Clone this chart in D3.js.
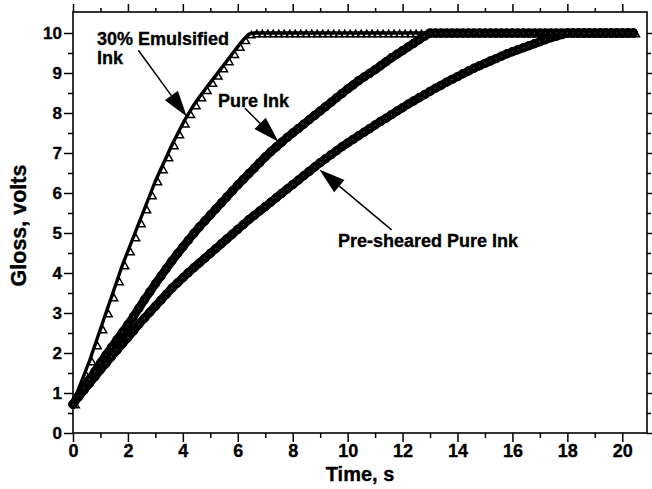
<!DOCTYPE html>
<html>
<head>
<meta charset="utf-8">
<script src="https://cdn.jsdelivr.net/npm/d3@7"></script>
<style>
  html, body { margin: 0; padding: 0; background: #fff; }
  svg { display: block; }
  text { font-family: "Liberation Sans", Arial, sans-serif; font-weight: bold; fill: #000; }
  .heavy { stroke: #000; stroke-width: 0.35; }
</style>
</head>
<body>
<svg id="chart" width="652" height="489"></svg>
<script>
// Sampling times (s)
const time = [0,0.2,0.4,0.6,0.8,1.0,1.2,1.4,1.6,1.8,2.0,2.2,2.4,2.6,2.8,3.0,3.2,3.4,3.6,3.8,
  4.0,4.2,4.4,4.6,4.8,5.0,5.2,5.4,5.6,5.8,6.0,6.2,6.4,6.6,6.8,7.0,7.2,7.4,7.6,7.8,
  8.0,8.2,8.4,8.6,8.8,9.0,9.2,9.4,9.6,9.8,10.0,10.2,10.4,10.6,10.8,11.0,11.2,11.4,11.6,11.8,
  12.0,12.2,12.4,12.6,12.8,13.0,13.2,13.4,13.6,13.8,14.0,14.2,14.4,14.6,14.8,15.0,15.2,15.4,15.6,15.8,
  16.0,16.2,16.4,16.6,16.8,17.0,17.2,17.4,17.6,17.8,18.0,18.2,18.4,18.6,18.8,19.0,19.2,19.4,19.6,19.8,
  20.0,20.2,20.4];

// Gloss (volts) – 30% emulsified ink
const emulsified = [0.72,1.1,1.45,1.8,2.2,2.6,3.0,3.4,3.8,4.2,4.55,4.9,5.25,5.6,5.95,6.3,6.6,6.9,7.2,7.47,
  7.74,7.98,8.2,8.4,8.58,8.76,8.94,9.12,9.3,9.48,9.66,9.83,9.97,10,10,10,10,10,10,10,
  10,10,10,10,10,10,10,10,10,10,10,10,10,10,10,10,10,10,10,10,
  10,10,10,10,10,10,10,10,10,10,10,10,10,10,10,10,10,10,10,10,
  10,10,10,10,10,10,10,10,10,10,10,10,10,10,10,10,10,10,10,10,
  10,10,10];

// Gloss (volts) – pure ink
const pureInk = [0.72,0.93,1.13,1.34,1.54,1.75,1.95,2.14,2.33,2.52,2.71,2.91,3.12,3.33,3.53,3.73,3.92,4.11,4.3,4.48,
  4.65,4.82,4.99,5.15,5.3,5.45,5.6,5.75,5.9,6.05,6.2,6.34,6.48,6.62,6.76,6.9,7.03,7.15,7.27,7.39,
  7.5,7.61,7.72,7.83,7.94,8.05,8.16,8.27,8.38,8.49,8.6,8.7,8.81,8.9,8.99,9.08,9.18,9.28,9.38,9.47,
  9.56,9.65,9.74,9.83,9.92,10,10,10,10,10,10,10,10,10,10,10,10,10,10,10,
  10,10,10,10,10,10,10,10,10,10,10,10,10,10,10,10,10,10,10,10,
  10,10,10];

// Gloss (volts) – pre-sheared pure ink
const preSheared = [0.72,0.9,1.07,1.24,1.41,1.58,1.74,1.91,2.07,2.23,2.39,2.55,2.72,2.87,3.02,3.17,3.32,3.47,3.62,3.75,
  3.88,4.01,4.13,4.25,4.37,4.49,4.61,4.73,4.85,4.97,5.09,5.21,5.33,5.44,5.55,5.66,5.77,5.88,5.99,6.1,
  6.21,6.32,6.43,6.54,6.65,6.76,6.86,6.96,7.06,7.16,7.25,7.34,7.43,7.52,7.61,7.7,7.79,7.87,7.96,8.05,
  8.13,8.22,8.3,8.38,8.46,8.54,8.62,8.69,8.77,8.84,8.91,8.98,9.05,9.12,9.18,9.24,9.3,9.36,9.42,9.48,
  9.53,9.58,9.63,9.68,9.73,9.78,9.83,9.88,9.92,9.96,10,10,10,10,10,10,10,10,10,10,
  10,10,10];

const xTicks = [0,2,4,6,8,10,12,14,16,18,20];
const xMinorTicks = [1,3,5,7,9,11,13,15,17,19];
const yTicks = [0,1,2,3,4,5,6,7,8,9,10];
const yMinorTicks = [0.5,1.5,2.5,3.5,4.5,5.5,6.5,7.5,8.5,9.5];

const xTitle = "Time, s";
const yTitle = "Gloss, volts";

// Callout labels, placed in data units
const labels = [
  { lines: ["30% Emulsified", "Ink"], t: 0.87, v: 9.7 },
  { lines: ["Pure Ink"], t: 5.28, v: 8.15 },
  { lines: ["Pre-sheared Pure Ink"], t: 9.65, v: 4.65 }
];
const arrows = [
  { from: [2.38, 9.57], to: [4.14, 7.91] },
  { from: [6.26, 8.12], to: [7.48, 7.28] },
  { from: [11.6, 5.08], to: [8.97, 6.59] }
];

const svg = d3.select("#chart");
const plotL = 73, plotR = 647, plotT = 12, plotB = 433;

const x = d3.scaleLinear().domain([0, 20.9]).range([plotL, plotR]);
const y = d3.scaleLinear().domain([0, 10.525]).range([plotB, plotT]);

// ---- axes (ticks outward on all four sides) ----
function styleAxis(g) {
  g.select(".domain").remove();
  g.selectAll(".tick line").attr("stroke", "#000").attr("stroke-width", 1.5);
}
svg.append("g").attr("transform", `translate(0,${plotB})`)
  .call(d3.axisBottom(x).tickValues(xTicks).tickSize(9).tickPadding(2).tickFormat(d3.format("d")))
  .call(styleAxis)
  .call(g => g.selectAll("text").attr("font-size", 18).attr("dy", "0.72em").attr("class", "heavy"));
svg.append("g").attr("transform", `translate(0,${plotB})`)
  .call(d3.axisBottom(x).tickValues(xMinorTicks).tickSize(5).tickFormat(""))
  .call(styleAxis);
svg.append("g").attr("transform", `translate(0,${plotT})`)
  .call(d3.axisTop(x).tickValues(xTicks).tickSize(8).tickFormat(""))
  .call(styleAxis);
svg.append("g").attr("transform", `translate(0,${plotT})`)
  .call(d3.axisTop(x).tickValues(xMinorTicks).tickSize(4).tickFormat(""))
  .call(styleAxis);

svg.append("g").attr("transform", `translate(${plotL},0)`)
  .call(d3.axisLeft(y).tickValues(yTicks).tickSize(9).tickPadding(2).tickFormat(d3.format("d")))
  .call(styleAxis)
  .call(g => g.selectAll("text").attr("font-size", 17).attr("class", "heavy"));
svg.append("g").attr("transform", `translate(${plotL},0)`)
  .call(d3.axisLeft(y).tickValues(yMinorTicks).tickSize(5).tickFormat(""))
  .call(styleAxis);
svg.append("g").attr("transform", `translate(${plotR},0)`)
  .call(d3.axisRight(y).tickValues(yTicks).tickSize(8).tickFormat(""))
  .call(styleAxis);
svg.append("g").attr("transform", `translate(${plotR},0)`)
  .call(d3.axisRight(y).tickValues(yMinorTicks).tickSize(4).tickFormat(""))
  .call(styleAxis);

// frame
svg.append("rect")
  .attr("x", plotL).attr("y", plotT)
  .attr("width", plotR - plotL).attr("height", plotB - plotT)
  .attr("fill", "none").attr("stroke", "#000").attr("stroke-width", 1.6);

// axis titles
svg.append("text").attr("class", "heavy")
  .attr("x", (plotL + plotR) / 2).attr("y", 481)
  .attr("text-anchor", "middle").attr("font-size", 20)
  .text(xTitle);
svg.append("text").attr("class", "heavy")
  .attr("transform", `translate(26,${(plotT + plotB) / 2 + 3}) rotate(-90)`)
  .attr("text-anchor", "middle").attr("font-size", 21.5)
  .text(yTitle);

// ---- series ----
const line = d3.line().x((d, i) => x(time[i])).y(d => y(d));

// 30% emulsified: heavy line with open triangles riding on its lower side
svg.append("path").datum(emulsified)
  .attr("d", line).attr("fill", "none")
  .attr("stroke", "#000").attr("stroke-width", 3.4)
  .attr("stroke-linejoin", "round").attr("stroke-linecap", "round");
svg.append("g").selectAll("path").data(emulsified).join("path")
  .attr("d", d3.symbol(d3.symbolTriangle, 24)())
  .attr("transform", (d, i) => `translate(${x(time[i]) + 2.5},${y(d) + 1.5})`)
  .attr("fill", "none").attr("stroke", "#000").attr("stroke-width", 1.5);

// Pure ink and pre-sheared pure ink: densely packed open circles
function circleSeries(values) {
  svg.append("path").datum(values)
    .attr("d", line).attr("fill", "none")
    .attr("stroke", "#000").attr("stroke-width", 8.5)
    .attr("stroke-linejoin", "round").attr("stroke-linecap", "round");
  svg.append("g").selectAll("circle").data(values).join("circle")
    .attr("cx", (d, i) => x(time[i])).attr("cy", d => y(d))
    .attr("r", 4)
    .attr("fill", "none").attr("stroke", "#000").attr("stroke-width", 1.4);
  svg.append("g").selectAll("circle").data(values).join("circle")
    .attr("cx", (d, i) => x(time[i])).attr("cy", d => y(d))
    .attr("r", 0.6).attr("fill", "#fff").attr("opacity", 0.4);
}
circleSeries(preSheared);
circleSeries(pureInk);

// ---- callouts ----
labels.forEach(l => {
  const t = svg.append("text").attr("class", "heavy")
    .attr("x", x(l.t)).attr("y", y(l.v))
    .attr("font-size", 18);
  l.lines.forEach((s, k) => {
    t.append("tspan").attr("x", x(l.t)).attr("dy", k === 0 ? 0 : 19).text(s);
  });
});

arrows.forEach(a => {
  const x0 = x(a.from[0]), y0 = y(a.from[1]);
  const x1 = x(a.to[0]), y1 = y(a.to[1]);
  const ang = Math.atan2(y1 - y0, x1 - x0);
  const headLen = 26, halfW = 8;
  const bx = x1 - headLen * Math.cos(ang), by = y1 - headLen * Math.sin(ang);
  const px = -Math.sin(ang) * halfW, py = Math.cos(ang) * halfW;
  svg.append("line")
    .attr("x1", x0).attr("y1", y0).attr("x2", bx).attr("y2", by)
    .attr("stroke", "#000").attr("stroke-width", 1.5);
  svg.append("path")
    .attr("d", `M${x1},${y1}L${bx + px},${by + py}L${bx - px},${by - py}Z`)
    .attr("fill", "#000");
});
</script>
</body>
</html>
